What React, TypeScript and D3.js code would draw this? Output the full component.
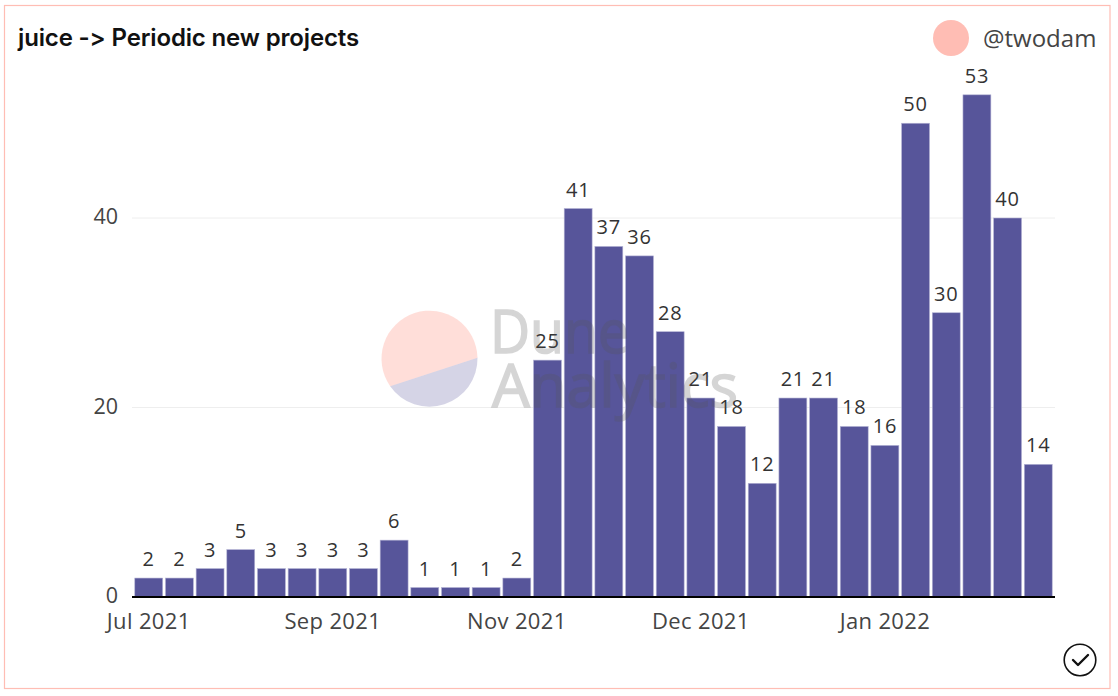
import React from "react";
import * as d3 from "d3";

const W = 1118;
const H = 696;

const values = [2, 2, 3, 5, 3, 3, 3, 3, 6, 1, 1, 1, 2, 25, 41, 37, 36, 28, 21, 18, 12, 21, 21, 18, 16, 50, 30, 53, 40, 14];
const categories = values.map((_, i) => `week-${i + 1}`);
const xTickLabels = ["Jul 2021", "Sep 2021", "Nov 2021", "Dec 2021", "Jan 2022"];
const xTickWeeks = ["week-1", "week-7", "week-13", "week-19", "week-25"];
const yTicks = [0, 20, 40];
const titleText = "juice -> Periodic new projects";
const authorText = "@twodam";
const watermarkLines = ["Dune", "Analytics"];

const LABEL_FONT = "'Open Sans', 'Noto Sans', sans-serif";

export default function App() {
  const x = d3.scaleBand<string>().domain(categories).range([133.4, 1053.6]).paddingInner(0.09).paddingOuter(0.045);
  const y = d3.scaleLinear().domain([0, 40]).range([597, 218]);

  const cx = 429.5, cy = 358.7, r = 48;
  const angA = Math.atan2(26.9, -38.5);
  const angB = Math.atan2(-1, 47.9);
  const a1 = [cx + r * Math.cos(angA), cy + r * Math.sin(angA)];
  const a2 = [cx + r * Math.cos(angB), cy + r * Math.sin(angB)];
  const arcTop = `M${a1[0]},${a1[1]} A${r},${r} 0 1 1 ${a2[0]},${a2[1]} Z`;
  const arcBottom = `M${a1[0]},${a1[1]} A${r},${r} 0 0 0 ${a2[0]},${a2[1]} Z`;

  return (
    <svg width={W} height={H} viewBox={`0 0 ${W} ${H}`} style={{ position: "absolute", left: 0, top: 0, background: "#fff" }}>
      <rect x={4.5} y={5.5} width={1105.5} height={683} fill="#fff" stroke="#ffbdb4" strokeWidth={1.2} />

      <text x={18} y={46} fontFamily="Inter, sans-serif" fontWeight={600} fontSize={24} fill="#111" letterSpacing={-0.15}>{titleText}</text>
      <circle cx={951} cy={38} r={18} fill="#ffbdb4" />
      <text x={983} y={47} fontFamily={LABEL_FONT} fontSize={24} fill="#444">{authorText}</text>

      {yTicks.filter((t) => t > 0).map((t) => (
        <line key={t} x1={132} x2={1055} y1={y(t)} y2={y(t)} stroke="#eeeeee" strokeWidth={1} />
      ))}
      {yTicks.map((t) => (
        <text key={t} x={118} y={y(t) + 6} textAnchor="end" fontFamily={LABEL_FONT} fontSize={21.5} fill="#444">{t}</text>
      ))}

      {categories.map((c, i) => (
        <rect key={c} x={x(c)} y={y(values[i])} width={x.bandwidth()} height={y(0) - y(values[i])} fill="#57559a" stroke="#b4b3d4" strokeWidth={0.6} />
      ))}
      {categories.map((c, i) => (
        <text key={c} x={(x(c) as number) + x.bandwidth() / 2} y={y(values[i]) - 12} textAnchor="middle" fontFamily={LABEL_FONT} fontSize={20} letterSpacing={0.8} fill="#333">{values[i]}</text>
      ))}

      <line x1={132} x2={1055} y1={597} y2={597} stroke="#000" strokeWidth={2} />
      {xTickWeeks.map((c, i) => (
        <text key={c} x={(x(c) as number) + x.bandwidth() / 2} y={629} textAnchor="middle" fontFamily={LABEL_FONT} fontSize={22} letterSpacing={0.35} fill="#444">{xTickLabels[i]}</text>
      ))}

      <g style={{ pointerEvents: "none" }}>
        <path d={arcTop} fill="#ffbdb4" fillOpacity={0.5} />
        <path d={arcBottom} fill="#57559a" fillOpacity={0.25} />
        <g opacity={0.24}>
          <text x={490} y={353} fontFamily={LABEL_FONT} fontSize={60} textLength={139} lengthAdjust="spacingAndGlyphs" fill="#555" stroke="#555" strokeWidth={1.6}>{watermarkLines[0]}</text>
          <text x={492} y={407} fontFamily={LABEL_FONT} fontSize={60} textLength={246} lengthAdjust="spacingAndGlyphs" fill="#555" stroke="#555" strokeWidth={1.6}>{watermarkLines[1]}</text>
        </g>
      </g>

      <circle cx={1080} cy={660} r={15.8} fill="none" stroke="#111" strokeWidth={1.6} />
      <path d="M1073,660 L1078,665 L1088,655" fill="none" stroke="#111" strokeWidth={2.4} strokeLinecap="round" strokeLinejoin="round" />
    </svg>
  );
}
